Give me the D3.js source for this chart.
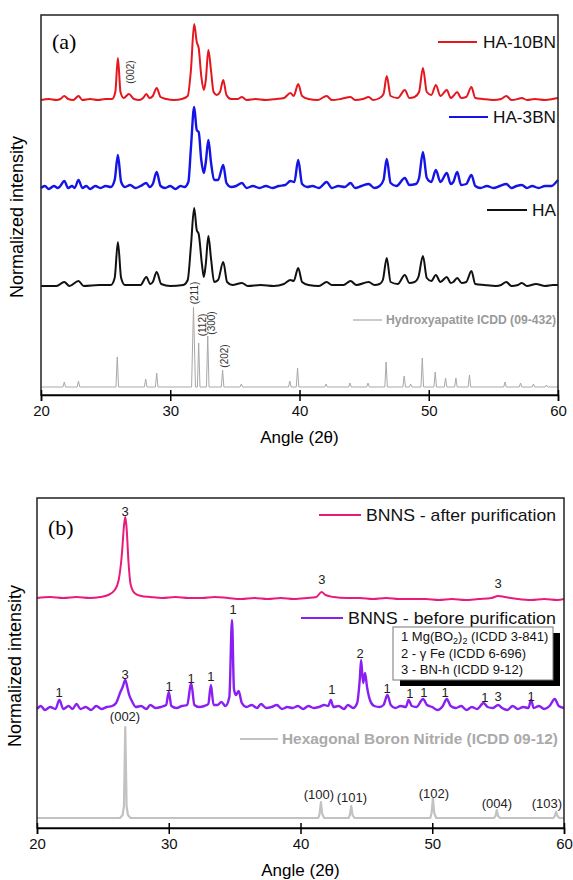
<!DOCTYPE html>
<html>
<head>
<meta charset="utf-8">
<script src="https://cdn.jsdelivr.net/npm/d3@7"></script>
<style>
  body { margin: 0; background: #fff; }
  text { font-family: "Liberation Sans", Arial, sans-serif; }
</style>
</head>
<body>
<div id="chart"></div>
<script>
// angle ticks, shared by both panels
var angleTicks = [20, 30, 40, 50, 60];

// ---- panel (a): [2theta, intensity above baseline] ----
var ha10bn = [[20,0],[20.6,1],[21.2,0],[21.5,1],[21.8,4],[22.1,1],[22.5,0],[22.9,4],[23.2,0],[23.8,1],[24.4,0],[25.0,1],[25.5,1],[25.75,8],[25.95,42],[26.15,8],[26.4,2],[26.8,6],[27.2,1],[27.6,0],[27.9,2],[28.15,6],[28.4,2],[28.65,4],[28.95,12],[29.25,3],[29.7,1],[30.3,0],[30.9,1],[31.35,4],[31.6,30],[31.85,76],[32.05,58],[32.2,52],[32.4,24],[32.6,10],[32.75,20],[32.95,50],[33.15,30],[33.35,8],[33.6,5],[33.85,8],[34.1,20],[34.35,5],[34.7,1],[35.2,1],[35.55,3],[35.9,0],[36.6,1],[37.4,0],[38.2,1],[38.8,2],[39.3,7],[39.55,4],[39.9,16],[40.2,4],[40.7,1],[41.4,0],[42.1,4],[42.5,0],[43.2,1],[43.95,3],[44.3,0],[44.9,1],[45.35,3],[45.7,0],[46.2,2],[46.5,6],[46.75,24],[47.05,4],[47.6,2],[48.15,10],[48.5,2],[48.9,3],[49.25,8],[49.55,32],[49.85,8],[50.2,5],[50.55,15],[50.9,4],[51.4,10],[51.7,2],[51.9,4],[52.2,8],[52.5,2],[52.9,3],[53.3,13],[53.6,2],[54.2,1],[55.0,0],[55.6,1],[56.0,4],[56.4,0],[56.9,1],[57.2,2],[57.6,0],[58.2,1],[59.0,0],[59.6,1],[60,2]];

var ha3bn = [[20,0],[20.3,2],[20.6,-1],[21.0,2],[21.3,0],[21.5,2],[21.8,7],[22.1,0],[22.4,2],[22.6,0],[22.9,8],[23.2,0],[23.5,2],[23.8,-1],[24.2,2],[24.6,0],[25.0,2],[25.4,1],[25.7,8],[25.95,33],[26.2,6],[26.5,1],[26.9,3],[27.3,0],[27.7,2],[28.15,5],[28.4,1],[28.65,4],[28.95,16],[29.25,2],[29.6,0],[30.0,2],[30.4,-1],[30.8,2],[31.1,1],[31.4,6],[31.6,40],[31.85,81],[32.05,58],[32.2,56],[32.4,28],[32.6,15],[32.75,26],[32.95,48],[33.15,26],[33.4,8],[33.7,8],[34.1,23],[34.35,5],[34.7,1],[35.1,2],[35.55,5],[35.9,0],[36.4,2],[36.9,0],[37.4,2],[37.9,0],[38.4,2],[38.9,3],[39.3,7],[39.6,6],[39.9,28],[40.2,4],[40.6,1],[41.0,2],[41.5,0],[42.1,6],[42.5,0],[43.0,2],[43.5,1],[43.95,5],[44.3,0],[44.8,2],[45.35,4],[45.8,0],[46.2,2],[46.5,8],[46.75,29],[47.05,5],[47.5,2],[48.15,10],[48.5,3],[49.0,4],[49.25,10],[49.55,36],[49.85,10],[50.2,6],[50.55,18],[50.9,6],[51.4,15],[51.7,4],[51.9,6],[52.2,16],[52.5,3],[52.9,4],[53.3,13],[53.6,2],[54.0,0],[54.5,2],[55.0,0],[55.5,2],[56.0,4],[56.4,0],[56.8,2],[57.2,3],[57.6,0],[58.0,2],[58.5,0],[59.0,2],[59.5,2],[59.8,5],[60,8]];

var haPure = [[20,0],[21.2,0],[21.8,4],[22.2,0],[22.9,5],[23.3,0],[24.5,1],[25.4,1],[25.7,8],[25.95,44],[26.2,8],[26.5,1],[27.0,1],[27.7,1],[28.15,9],[28.45,2],[28.65,4],[28.95,14],[29.3,2],[30.0,0],[31.0,1],[31.35,6],[31.6,40],[31.85,78],[32.05,56],[32.2,52],[32.45,22],[32.6,9],[32.75,22],[32.95,50],[33.15,28],[33.4,4],[33.7,6],[34.1,24],[34.4,4],[34.8,1],[35.55,3],[36.0,0],[37.0,1],[38.0,0],[38.8,2],[39.3,6],[39.55,5],[39.9,18],[40.2,4],[40.7,1],[41.5,0],[42.1,4],[42.5,1],[43.4,1],[43.95,5],[44.4,1],[45.35,4],[45.8,1],[46.2,2],[46.45,6],[46.75,28],[47.05,4],[47.6,2],[48.15,11],[48.5,3],[48.9,4],[49.2,9],[49.55,30],[49.85,8],[50.2,5],[50.55,11],[50.9,4],[51.4,9],[51.7,3],[51.9,4],[52.2,8],[52.55,3],[52.9,4],[53.3,15],[53.6,2],[54.3,1],[55.2,0],[55.6,1],[56.0,4],[56.4,0],[56.9,1],[57.2,3],[57.6,0],[58.3,2],[59.0,0],[59.6,1],[60,1]];

var icddHA = [[20,0],[21.7,0],[21.8,5],[21.9,0],[22.8,0],[22.9,6],[23.0,0],[25.8,0],[25.9,30],[26.0,0],[28.0,0],[28.1,8],[28.2,0],[28.85,0],[28.95,14],[29.05,0],[31.65,0],[31.8,80],[31.95,0],[32.1,0],[32.2,44],[32.3,0],[32.8,0],[32.9,51],[33.0,0],[33.95,0],[34.05,17],[34.15,0],[35.4,0],[35.5,3],[35.6,0],[39.15,0],[39.25,6],[39.35,0],[39.75,0],[39.85,19],[39.95,0],[41.95,0],[42.05,3],[42.15,0],[43.8,0],[43.9,4],[44.0,0],[45.2,0],[45.3,4],[45.4,0],[46.6,0],[46.7,25],[46.8,0],[48.0,0],[48.1,11],[48.2,0],[48.5,0],[48.6,3],[48.7,0],[49.4,0],[49.5,29],[49.6,0],[50.4,0],[50.5,15],[50.6,0],[51.2,0],[51.3,9],[51.4,0],[52.0,0],[52.1,9],[52.2,0],[53.05,0],[53.15,12],[53.25,0],[55.8,0],[55.9,5],[56.0,0],[57.0,0],[57.1,4],[57.2,0],[58.0,0],[58.1,3],[58.2,0],[59.0,0],[59.1,2],[59.2,0],[60,0]];

var seriesA = [ha10bn, ha3bn, haPure, icddHA];
var namesA = ['HA-10BN', 'HA-3BN', 'HA', 'Hydroxyapatite ICDD (09-432)'];
var offsetsA = [295, 207, 109, 8];

// hkl labels on the ICDD pattern (a)
var hklAngleA = [26.89, 31.84, 32.46, 33.23, 34.16];
var hklValA = [323, 102, 70, 72, 39];
var hklTextA = ['(002)', '(211)', '(112)', '(300)', '(202)'];

// ---- panel (b) ----
var bnnsAfter = [[20,0],[21,1],[22,0],[23,1],[24,0],[24.8,1],[25.4,3],[25.9,8],[26.2,18],[26.45,45],[26.6,72],[26.7,81],[26.8,70],[26.95,35],[27.1,14],[27.4,5],[27.9,2],[28.6,1],[29.5,0],[30.5,1],[31.5,0],[32.5,0],[33.5,1],[34.5,0],[35.5,-1],[36.5,0],[37.5,-1],[38.5,0],[39.5,-1],[40.5,0],[41.2,1],[41.6,6],[41.9,3],[42.5,1],[43.5,0],[44.5,0],[45.5,-1],[46.5,0],[47.5,-1],[48.5,-1],[49.5,-1],[50.5,-2],[51.5,-1],[52.5,-2],[53.5,-1],[54.5,0],[55.0,2],[55.5,1],[56.5,-1],[57.5,-2],[58.5,-1],[59.5,-2],[60,-1]];

var bnnsBefore = [[20,0],[20.3,3],[20.6,-1],[21.0,2],[21.4,0],[21.7,9],[22.0,0],[22.4,3],[22.7,0],[23.0,5],[23.3,0],[23.7,2],[24.1,-1],[24.5,3],[24.9,0],[25.3,2],[25.7,3],[26.0,6],[26.3,16],[26.5,22],[26.7,29],[26.85,22],[27.0,14],[27.2,8],[27.5,2],[27.9,3],[28.3,0],[28.6,4],[29.0,1],[29.4,2],[29.8,4],[30.0,17],[30.2,3],[30.6,1],[31.0,3],[31.4,4],[31.7,26],[31.95,4],[32.3,2],[32.7,3],[33.0,5],[33.2,24],[33.4,4],[33.7,4],[34.0,7],[34.3,3],[34.6,12],[34.8,89],[34.95,20],[35.1,14],[35.3,18],[35.55,6],[35.9,2],[36.3,4],[36.7,1],[37.0,5],[37.4,1],[37.8,2],[38.2,4],[38.6,0],[39.0,2],[39.4,1],[39.8,3],[40.2,0],[40.6,3],[41.0,1],[41.4,2],[41.8,4],[42.1,3],[42.3,9],[42.5,2],[42.9,3],[43.3,0],[43.6,4],[44.0,1],[44.3,6],[44.5,30],[44.6,49],[44.75,26],[44.9,36],[45.05,22],[45.3,8],[45.6,3],[46.0,2],[46.3,4],[46.6,14],[46.85,4],[47.2,1],[47.6,3],[48.0,2],[48.2,9],[48.45,3],[48.8,2],[49.3,10],[49.6,4],[50.0,2],[50.4,-1],[50.8,3],[51.1,10],[51.4,3],[51.8,1],[52.2,3],[52.6,-1],[53.0,2],[53.4,0],[53.9,6],[54.2,2],[54.6,1],[55.0,4],[55.3,1],[55.7,-1],[56.1,3],[56.5,0],[56.9,2],[57.3,1],[57.5,9],[57.7,1],[58.1,3],[58.5,0],[58.9,3],[59.3,10],[59.6,3],[60,1]];

var icddBN = [[20,0],[26.3,0],[26.5,3],[26.6,12],[26.7,91],[26.8,12],[26.9,3],[27.1,0],[41.35,0],[41.45,4],[41.55,16],[41.65,4],[41.8,0],[43.65,0],[43.75,3],[43.85,12],[43.95,3],[44.1,0],[49.85,0],[49.95,5],[50.05,20],[50.15,5],[50.3,0],[54.7,0],[54.8,2],[54.9,8],[55.0,2],[55.15,0],[59.2,0],[59.3,2],[59.4,6],[59.5,2],[59.65,0],[60,0]];

var seriesB = [bnnsAfter, bnnsBefore, icddBN];
var namesB = ['BNNS - after purification', 'BNNS - before purification', 'Hexagonal Boron Nitride (ICDD 09-12)'];
var offsetsB = [230, 119, 10];

// phase markers (b)
var phaseAngleB = [26.68, 41.63, 55.0, 21.67, 26.68, 30.02, 31.69, 33.2, 34.88, 42.39, 44.52, 46.57, 48.31, 49.37, 50.97, 54.0, 54.99, 57.5];
var phaseValB = [317, 249, 245, 136, 154, 142, 150, 152, 219, 139, 175, 140, 135, 136, 136, 131, 132, 132];
var phaseTextB = ['3', '3', '3', '1', '3', '1', '1', '1', '1', '1', '2', '1', '1', '1', '1', '1', '3', '1'];

var hklAngleB = [26.68, 41.4, 43.9, 50.13, 54.9, 58.7];
var hklValB = [112, 34, 31, 35, 25, 25];
var hklTextB = ['(002)', '(100)', '(101)', '(102)', '(004)', '(103)'];

var svg = d3.select('#chart').append('svg')
    .attr('width', 573)
    .attr('height', 880);

// ------------ panel (a) ------------
var boxA = {left: 41, right: 558, top: 15, bottom: 395};
var xA = d3.scaleLinear().domain([20, 60]).range([boxA.left, boxA.right]);
var yA = d3.scaleLinear().domain([0, 380]).range([boxA.bottom, boxA.top]);
var colorsA = ['#e4161e', '#1414e6', '#111111', '#a8a8a8'];
var widthsA = [2, 2.4, 2, 1];

seriesA.forEach(function (s, i) {
    var line = d3.line()
        .x(function (d) { return xA(d[0]); })
        .y(function (d) { return yA(d[1] + offsetsA[i]); })
        .curve(i == 3 ? d3.curveLinear : d3.curveMonotoneX);
    svg.append('path')
        .datum(s)
        .attr('d', line)
        .attr('fill', 'none')
        .attr('stroke', colorsA[i])
        .attr('stroke-width', widthsA[i])
        .attr('stroke-linejoin', 'round');
});

svg.selectAll('.hklA')
    .data(hklTextA)
    .enter()
    .append('text')
    .attr('class', 'hklA')
    .attr('transform', function (d, i) {
        return 'translate(' + xA(hklAngleA[i]) + ',' + yA(hklValA[i]) + ') rotate(-90)';
    })
    .attr('text-anchor', 'middle')
    .attr('dy', '0.35em')
    .style('font-size', '10px')
    .style('fill', '#333')
    .text(function (d) { return d; });

// legend (a)
var legA = [
    {y: 42, x1: 438, x2: 477, tx: 483},
    {y: 117, x1: 449, x2: 488, tx: 493},
    {y: 210, x1: 487, x2: 527, tx: 532},
    {y: 320, x1: 353, x2: 382, tx: 386}
];
legA.forEach(function (l, i) {
    svg.append('line')
        .attr('x1', l.x1).attr('x2', l.x2)
        .attr('y1', l.y).attr('y2', l.y)
        .attr('stroke', colorsA[i])
        .attr('stroke-width', i == 3 ? 1.2 : 2);
    svg.append('text')
        .attr('x', l.tx)
        .attr('y', l.y)
        .attr('dy', '0.35em')
        .attr('textLength', 556 - l.tx)
        .attr('lengthAdjust', 'spacingAndGlyphs')
        .style('font-size', i == 3 ? '12px' : '17px')
        .style('font-weight', i == 3 ? 'bold' : 'normal')
        .style('fill', i == 3 ? '#999' : '#111')
        .text(namesA[i]);
});

drawFrame(boxA, xA);
svg.append('text')
    .attr('x', 52).attr('y', 49)
    .style('font-family', '"Liberation Serif", serif')
    .style('font-size', '22px')
    .text('(a)');

// ------------ panel (b) ------------
var boxB = {left: 37, right: 564, top: 498, bottom: 828};
var xB = d3.scaleLinear().domain([20, 60]).range([boxB.left, boxB.right]);
var yB = d3.scaleLinear().domain([0, 330]).range([boxB.bottom, boxB.top]);
var colorsB = ['#ea1a7c', '#8a1ff2', '#c2c2c2'];
var widthsB = [2, 2.4, 2.2];

seriesB.forEach(function (s, i) {
    var line = d3.line()
        .x(function (d) { return xB(d[0]); })
        .y(function (d) { return yB(d[1] + offsetsB[i]); })
        .curve(i == 2 ? d3.curveLinear : d3.curveMonotoneX);
    svg.append('path')
        .datum(s)
        .attr('d', line)
        .attr('fill', 'none')
        .attr('stroke', colorsB[i])
        .attr('stroke-width', widthsB[i])
        .attr('stroke-linejoin', 'round');
});

svg.selectAll('.phaseB')
    .data(phaseTextB)
    .enter()
    .append('text')
    .attr('class', 'phaseB')
    .attr('x', function (d, i) { return xB(phaseAngleB[i]); })
    .attr('y', function (d, i) { return yB(phaseValB[i]); })
    .attr('dy', '0.35em')
    .attr('text-anchor', 'middle')
    .style('font-size', '13px')
    .style('fill', '#222')
    .text(function (d) { return d; });

svg.selectAll('.hklB')
    .data(hklTextB)
    .enter()
    .append('text')
    .attr('class', 'hklB')
    .attr('x', function (d, i) { return xB(hklAngleB[i]); })
    .attr('y', function (d, i) { return yB(hklValB[i]); })
    .attr('dy', '0.35em')
    .attr('text-anchor', 'middle')
    .style('font-size', '13px')
    .style('fill', '#222')
    .text(function (d) { return d; });

// legend (b)
var legB = [
    {y: 515, x1: 319, x2: 361, tx: 366, fs: '17px'},
    {y: 618, x1: 301, x2: 343, tx: 348, fs: '17px'},
    {y: 739, x1: 240, x2: 278, tx: 282, fs: '14px'}
];
legB.forEach(function (l, i) {
    svg.append('line')
        .attr('x1', l.x1).attr('x2', l.x2)
        .attr('y1', l.y).attr('y2', l.y)
        .attr('stroke', colorsB[i])
        .attr('stroke-width', 2.2);
    svg.append('text')
        .attr('x', l.tx)
        .attr('y', l.y)
        .attr('dy', '0.35em')
        .attr('textLength', (i == 2 ? 558 : 556) - l.tx)
        .attr('lengthAdjust', 'spacingAndGlyphs')
        .style('font-size', l.fs)
        .style('font-weight', i == 2 ? 'bold' : 'normal')
        .style('fill', i == 2 ? '#aaa' : '#111')
        .text(namesB[i]);
});

// phase key box with black shadow
svg.append('rect')
    .attr('x', 400).attr('y', 633).attr('width', 160).attr('height', 53)
    .attr('fill', '#000');
svg.append('rect')
    .attr('x', 393).attr('y', 627).attr('width', 160).attr('height', 53)
    .attr('fill', '#fff').attr('stroke', '#777').attr('stroke-width', 1);
var key = svg.append('g').style('font-size', '13px').style('fill', '#111');
// one text with shifted subscripts
key.append('text').attr('x', 401).attr('y', 641)
    .html('1 Mg(BO<tspan dy="3" font-size="9">2</tspan><tspan dy="-3">)</tspan><tspan dy="3" font-size="9">2</tspan><tspan dy="-3"> (ICDD 3-841)</tspan>');
key.append('text').attr('x', 401).attr('y', 658).text('2 - \u03b3 Fe (ICDD 6-696)');
key.append('text').attr('x', 401).attr('y', 674).text('3 - BN-h (ICDD 9-12)');

drawFrame(boxB, xB);
svg.append('text')
    .attr('x', 48).attr('y', 535)
    .style('font-family', '"Liberation Serif", serif')
    .style('font-size', '22px')
    .text('(b)');

// y titles
svg.append('text')
    .attr('transform', 'translate(23,217) rotate(-90)')
    .attr('text-anchor', 'middle')
    .style('font-size', '18px')
    .text('Normalized intensity');
svg.append('text')
    .attr('transform', 'translate(21,666) rotate(-90)')
    .attr('text-anchor', 'middle')
    .style('font-size', '18px')
    .text('Normalized intensity');

function drawFrame(box, x) {
    svg.append('rect')
        .attr('x', box.left).attr('y', box.top)
        .attr('width', box.right - box.left)
        .attr('height', box.bottom - box.top)
        .attr('fill', 'none')
        .attr('stroke', '#222')
        .attr('stroke-width', 1.5);
    var outer = svg.append('g')
        .attr('transform', 'translate(0,' + box.bottom + ')')
        .call(d3.axisBottom(x).tickValues(angleTicks).tickSize(6).tickPadding(4));
    outer.select('.domain').attr('stroke-width', 1.5);
    outer.selectAll('.tick line').attr('stroke-width', 1.5);
    outer.selectAll('.tick text')
        .style('font-size', '15px')
        .style('font-family', '"Liberation Sans", Arial, sans-serif')
        .attr('fill', '#111');
    var inner = svg.append('g')
        .attr('transform', 'translate(0,' + box.bottom + ')')
        .call(d3.axisTop(x).tickValues(angleTicks).tickSize(5).tickFormat(''));
    inner.select('.domain').remove();
    inner.selectAll('.tick line').attr('stroke-width', 1.5);
    svg.append('text')
        .attr('x', (box.left + box.right) / 2)
        .attr('y', box.bottom + 48)
        .attr('text-anchor', 'middle')
        .style('font-size', '17px')
        .text('Angle (2\u03b8)');
}
</script>
</body>
</html>
